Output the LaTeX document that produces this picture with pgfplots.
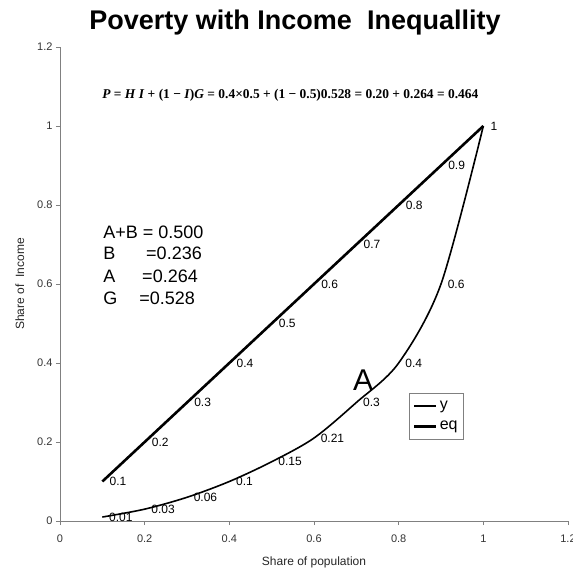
\documentclass[border=0pt]{standalone}
\usepackage{fontspec}
\setmainfont{Liberation Sans}
\newfontfamily\serifb{Liberation Serif}
\usepackage{pgfplots}
\usepackage{pgfplotstable}
\pgfplotsset{compat=1.18}
\pgfplotstableread{
x y lab
0.1 0.01 0.01
0.2 0.03 0.03
0.3 0.06 0.06
0.4 0.10 0.1
0.5 0.15 0.15
0.6 0.21 0.21
0.7 0.30 0.3
0.8 0.40 0.4
0.9 0.60 0.6
1.0 1.00 {}
}\ytab
\pgfplotstableread{
x y lab
0.1 0.1 0.1
0.2 0.2 0.2
0.3 0.3 0.3
0.4 0.4 0.4
0.5 0.5 0.5
0.6 0.6 0.6
0.7 0.7 0.7
0.8 0.8 0.8
0.9 0.9 0.9
1.0 1.0 1
}\eqtab
\begin{document}
\begin{tikzpicture}
\useasboundingbox (-60pt,-52pt) rectangle (513pt,521pt);
\begin{axis}[
  at={(0,0)}, anchor=south west,
  scale only axis, width=508pt, height=474pt,
  xmin=0, xmax=1.2, ymin=0, ymax=1.2,
  xtick={0,0.2,0.4,0.6,0.8,1,1.2},
  ytick={0,0.2,0.4,0.6,0.8,1,1.2},
  axis x line*=bottom, axis y line*=left,
  axis line style={draw=gray, line width=0.8pt, -},
  tick style={draw=gray, line width=0.8pt},
  tick align=outside, major tick length=4pt,
  /pgf/number format/assume math mode=true,
  tick label style={font=\fontsize{11}{13}\selectfont, text=black!80},
  xticklabel style={yshift=-6pt},
  xlabel={Share of population},
  ylabel={Share of\ \ Income},
  xlabel style={at={(axis description cs:0.5,-0.0865)}, anchor=center, font=\fontsize{12}{14}\selectfont, text=black!85},
  ylabel style={at={(axis description cs:-0.079,0.5)}, anchor=center, font=\fontsize{12}{14}\selectfont, text=black!85},
  title={Poverty with Income\ \ Inequallity},
  title style={at={(axis description cs:0.4626,1.040)}, anchor=center, font=\bfseries\fontsize{27}{30}\selectfont},
  clip=false,
  legend style={at={(axis description cs:0.687,0.270)}, anchor=north west, draw=gray, font=\fontsize{16}{18}\selectfont, inner xsep=4pt, inner ysep=6pt, row sep=6pt},
  legend cell align=left,
  legend image code/.code={\draw[#1] (0pt,0pt) -- (22pt,0pt);},
  nodes near coords,
  point meta=explicit symbolic,
  every node near coord/.style={anchor=west, xshift=5pt, yshift=0pt, inner sep=1pt, font=\fontsize{12}{14}\selectfont},
]
\addplot[black, line width=1.6pt, smooth, tension=0.5] table[x=x, y=y, meta=lab] {\ytab};
\addlegendentry{y}
\addplot[black, line width=2.6pt] table[x=x, y=y, meta=lab] {\eqtab};
\addlegendentry{eq}
\node[font=\fontsize{30}{32}\selectfont] at (axis cs:0.716,0.357) {A};
\node at (axis cs:0.544,1.078) {\resizebox{376pt}{!}{\serifb\bfseries \textit{P} = \textit{H I} + (1 − \textit{I})\textit{G} = 0.4×0.5 + (1 − 0.5)0.528 = 0.20 + 0.264 = 0.464}};
\node[anchor=base west, inner sep=0pt, font=\fontsize{18}{20}\selectfont] at (axis cs:0.1017,0.714) {A+B = 0.500};
\node[anchor=base west, inner sep=0pt, font=\fontsize{18}{20}\selectfont] at (axis cs:0.1017,0.661) {\makebox[43pt][l]{B}=0.236};
\node[anchor=base west, inner sep=0pt, font=\fontsize{18}{20}\selectfont] at (axis cs:0.1017,0.605) {\makebox[39pt][l]{A}=0.264};
\node[anchor=base west, inner sep=0pt, font=\fontsize{18}{20}\selectfont] at (axis cs:0.1017,0.547) {\makebox[36pt][l]{G}=0.528};
\end{axis}
\end{tikzpicture}
\end{document}
